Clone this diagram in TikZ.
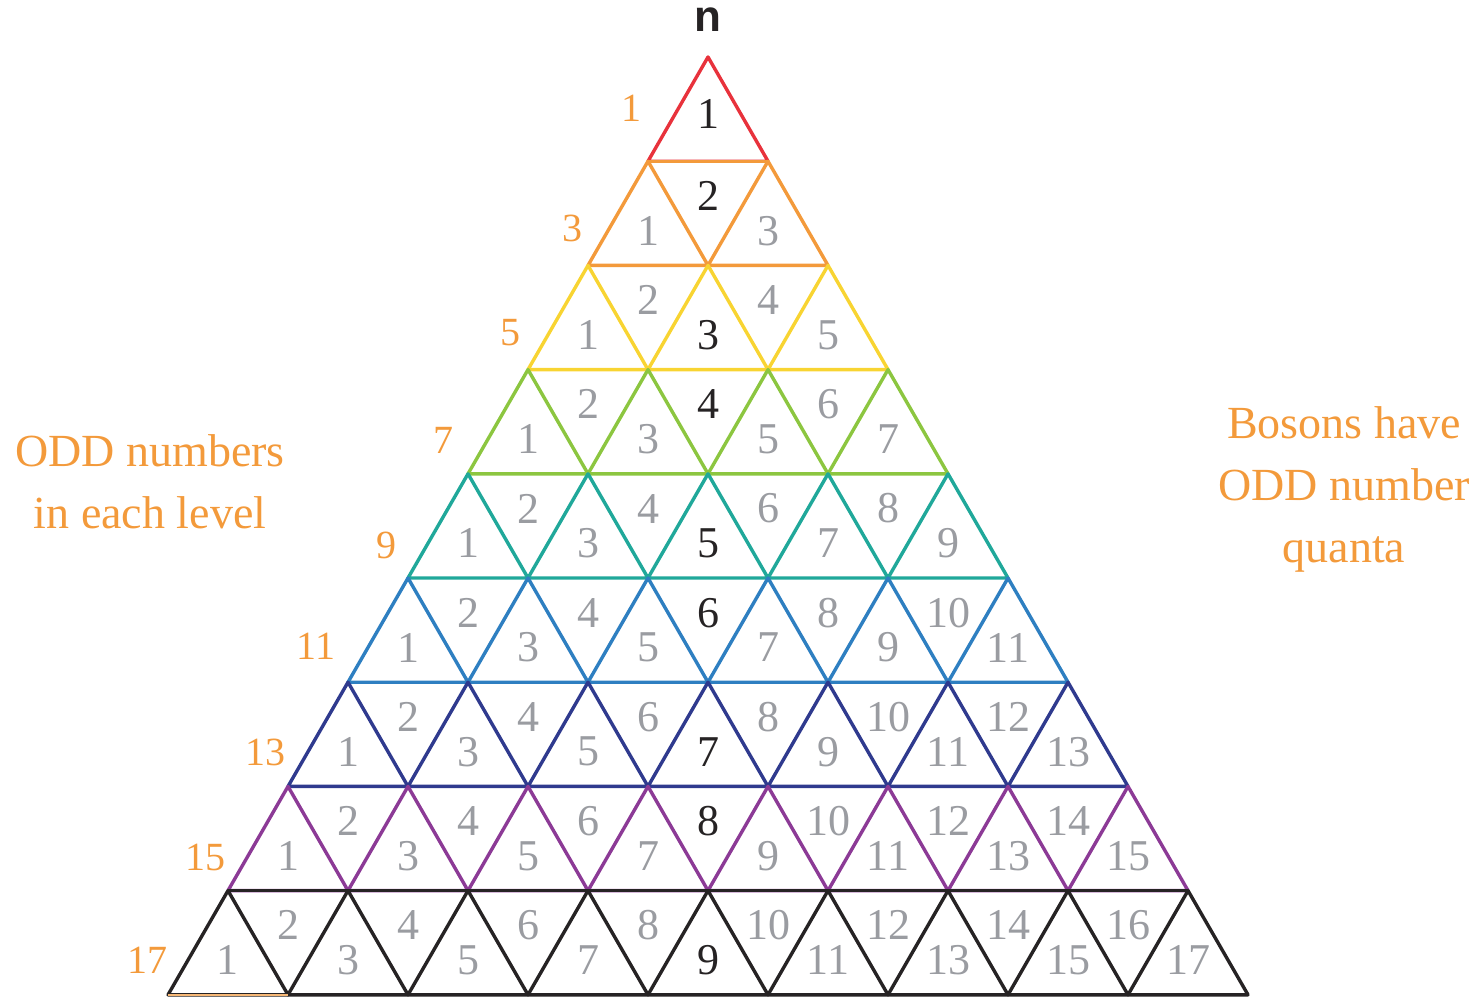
\documentclass[tikz,border=0pt]{standalone}
\usepackage{fontspec}
\setmainfont{Liberation Serif}
\newfontfamily\headfont{Liberation Sans}
\definecolor{rowc1}{HTML}{E8323C}
\definecolor{rowc2}{HTML}{F39A3B}
\definecolor{rowc3}{HTML}{F8D432}
\definecolor{rowc4}{HTML}{8CC640}
\definecolor{rowc5}{HTML}{20A89A}
\definecolor{rowc6}{HTML}{2E7FC1}
\definecolor{rowc7}{HTML}{2F3A8E}
\definecolor{rowc8}{HTML}{8C3A96}
\definecolor{rowc9}{HTML}{262324}
\definecolor{numgray}{HTML}{9A9CA1}
\definecolor{numdark}{HTML}{262324}
\definecolor{labor}{HTML}{F39A3B}
\tikzset{
  edge/.style={line width=1.7pt, line join=round},
  numtxt/.style={inner sep=0pt, font=\fontsize{22}{24}\selectfont, text=numgray},
  centertxt/.style={inner sep=0pt, font=\fontsize{22}{24}\selectfont, text=numdark},
  sidelab/.style={inner sep=0pt, font=\fontsize{20}{22}\selectfont, text=labor},
  bigtxt/.style={inner sep=0pt, font=\fontsize{23}{31}\selectfont, text=labor, align=center},
}
\begin{document}
\begin{tikzpicture}[x=0.5pt,y=-0.5pt]
\useasboundingbox (0,0) rectangle (1481,998);
% vertices
\foreach \r in {0,...,9}{
  \foreach \i in {0,...,\r}{
    \coordinate (v-\r-\i) at ({708-60*\r+120*\i},{57+104.2*\r});
  }
}
% rows of upward triangles
\foreach \r in {1,...,9}{
  \pgfmathtruncatemacro\rp{\r-1}
  \foreach \j in {1,...,\r}{
    \pgfmathtruncatemacro\a{\j-1}
    \draw[edge, draw=rowc\r] (v-\rp-\a) -- (v-\r-\a) -- (v-\r-\j) -- cycle;
  }
}
% top edges drawn in the lower row colour
\draw[edge, draw=rowc2] (v-1-0) -- (v-1-1);
\draw[edge, draw=rowc9] (v-8-0) -- (v-8-8);
\draw[line width=1.2pt, draw=labor!70] (v-9-0) -- (v-9-1);
% labels
\foreach \r in {1,...,9}{
  \pgfmathtruncatemacro\rp{\r-1}
  \foreach \j in {1,...,\r}{
    \pgfmathtruncatemacro\a{\j-1}
    \pgfmathtruncatemacro\k{2*\j-1}
    \ifnum\k=\r
      \ifnum\r=1
        \node[centertxt] (t-\r-\k) at ([yshift=6pt]barycentric cs:v-\rp-\a=1,v-\r-\a=1,v-\r-\j=1) {\r};
      \else
        \node[centertxt] (t-\r-\k) at (barycentric cs:v-\rp-\a=1,v-\r-\a=1,v-\r-\j=1) {\r};
      \fi
    \else
      \node[numtxt] (t-\r-\k) at (barycentric cs:v-\rp-\a=1,v-\r-\a=1,v-\r-\j=1) {\k};
    \fi
  }
  \ifnum\r>1
    \foreach \j in {1,...,\rp}{
      \pgfmathtruncatemacro\a{\j-1}
      \pgfmathtruncatemacro\k{2*\j}
      \ifnum\k=\r
        \node[centertxt] (t-\r-\k) at (barycentric cs:v-\rp-\a=1,v-\rp-\j=1,v-\r-\j=1) {\r};
      \else
        \node[numtxt] (t-\r-\k) at (barycentric cs:v-\rp-\a=1,v-\rp-\j=1,v-\r-\j=1) {\k};
      \fi
    }
  \fi
}
% side labels
\node[sidelab] (s1) at (631,108) {1};
\node[sidelab] (s3) at (572,228) {3};
\node[sidelab] (s5) at (510,333) {5};
\node[sidelab] (s7) at (443,440) {7};
\node[sidelab] (s9) at (386,545) {9};
\node[sidelab] (s11) at (316,646) {11};
\node[sidelab] (s13) at (265,752) {13};
\node[sidelab] (s15) at (205,857) {15};
\node[sidelab] (s17) at (147,960) {17};
% top letter
\node[inner sep=0pt, font=\headfont\bfseries\fontsize{22}{24}\selectfont, text=numdark] (ntop) at (708,20) {n};
% texts
\node[bigtxt] (left) at (150,482) {ODD numbers\\in each level};
\node[bigtxt] (right) at (1344,489) {Bosons have\\ODD number\\quanta};
\end{tikzpicture}
\end{document}
